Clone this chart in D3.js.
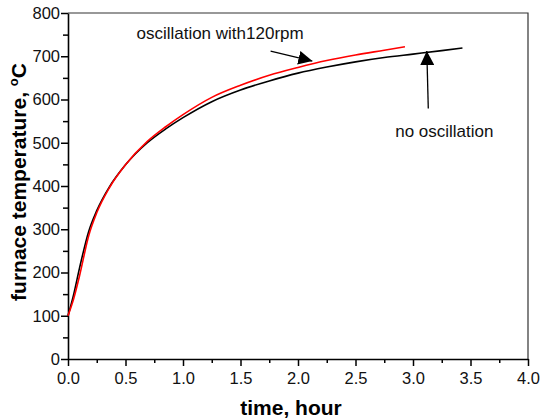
<!DOCTYPE html>
<html>
<head>
	<meta charset="utf-8">
	<title>Furnace temperature</title>
	<script src="https://d3js.org/d3.v7.min.js"></script>
	<style>
		body { margin: 0; background: #fff; }
		text { font-family: "Liberation Sans", Arial, sans-serif; }
	</style>
</head>
<body>
	<script>
		var width = 544, height = 419;
		var margin = {top: 13, right: 16, bottom: 60, left: 68};

		// no oscillation (black)
		var noOscTime = [0, 0.05, 0.1, 0.18, 0.25, 0.36, 0.5, 0.69, 0.85, 1.0, 1.25, 1.5, 1.75, 2.0, 2.25, 2.5, 2.75, 3.0, 3.25, 3.43];
		var noOscTemp = [100, 150, 210, 295, 343, 398, 449, 500, 532, 558, 595, 622, 643, 661, 675, 687, 697, 705, 713, 719];
		// oscillation with 120rpm (red)
		var oscTime = [0, 0.05, 0.1, 0.18, 0.25, 0.36, 0.5, 0.69, 0.85, 1.0, 1.25, 1.5, 1.75, 2.0, 2.25, 2.5, 2.75, 2.93];
		var oscTemp = [100, 140, 192, 285, 338, 396, 449, 503, 537, 565, 605, 633, 656, 674, 690, 703, 714, 722];

		var xTicks = [0, 0.5, 1, 1.5, 2, 2.5, 3, 3.5, 4];
		var xMinor = [0.25, 0.75, 1.25, 1.75, 2.25, 2.75, 3.25, 3.75];
		var yTicks = [0, 100, 200, 300, 400, 500, 600, 700, 800];
		var yMinor = [50, 150, 250, 350, 450, 550, 650, 750];

		// annotations in data units: [text, text x, text y, arrow from x, from y, arrow to x, to y]
		var oscNote = ["oscillation with120rpm", 0.595, 740, 1.762, 712, 2.125, 689];
		var noOscNote = ["no oscillation", 2.845, 513, 3.133, 579, 3.12, 712];

		var svg = d3.select("body").append("svg").attr("width", width).attr("height", height);

		var x = d3.scaleLinear().domain([0, 4]).range([margin.left, width - margin.right]);
		var y = d3.scaleLinear().domain([0, 800]).range([height - margin.bottom, margin.top]);

		// frame top/right
		svg.append("path")
			.attr("d", "M" + x(0) + "," + y(800) + "H" + x(4) + "V" + y(0))
			.attr("fill", "none").attr("stroke", "#333").attr("stroke-width", 1.2);

		// minor ticks
		svg.append("g").attr("transform", "translate(0," + y(0) + ")")
			.call(d3.axisBottom(x).tickValues(xMinor).tickSize(4).tickFormat(""))
			.call(function(g){ g.select(".domain").remove(); g.selectAll("line").attr("stroke-width", 1.5); });
		svg.append("g").attr("transform", "translate(" + x(0) + ",0)")
			.call(d3.axisLeft(y).tickValues(yMinor).tickSize(5).tickFormat(""))
			.call(function(g){ g.select(".domain").remove(); g.selectAll("line").attr("stroke-width", 1.5); });

		var xAxis = svg.append("g").attr("transform", "translate(0," + y(0) + ")")
			.call(d3.axisBottom(x).tickValues(xTicks).tickSize(7).tickSizeOuter(0).tickPadding(6).tickFormat(d3.format(".1f")));
		var yAxis = svg.append("g").attr("transform", "translate(" + x(0) + ",0)")
			.call(d3.axisLeft(y).tickValues(yTicks).tickSize(7).tickSizeOuter(0).tickPadding(1).tickFormat(d3.format("d")));

		[xAxis, yAxis].forEach(function(g){
			g.select(".domain").attr("stroke", "#000").attr("stroke-width", 1.6);
			g.selectAll(".tick line").attr("stroke-width", 1.5);
			g.selectAll(".tick text").attr("font-size", 16.5).attr("fill", "#111")
				.style("font-family", "'Liberation Sans', Arial, sans-serif");
		});

		var line = d3.line()
			.x(function(d){ return x(d[0]); })
			.y(function(d){ return y(d[1]); })
			.curve(d3.curveMonotoneX);

		svg.append("path")
			.datum(noOscTime.map(function(t, i){ return [t, noOscTemp[i]]; }))
			.attr("d", line).attr("fill", "none").attr("stroke", "#000").attr("stroke-width", 1.6);
		svg.append("path")
			.datum(oscTime.map(function(t, i){ return [t, oscTemp[i]]; }))
			.attr("d", line).attr("fill", "none").attr("stroke", "#f00").attr("stroke-width", 1.6);

		// arrows
		svg.append("defs").append("marker")
			.attr("id", "head").attr("viewBox", "0 0 14 14").attr("refX", 14).attr("refY", 7)
			.attr("markerWidth", 14).attr("markerHeight", 14).attr("markerUnits", "userSpaceOnUse")
			.attr("orient", "auto")
			.append("path").attr("d", "M0,0L14,7L0,14Z").attr("fill", "#000");

		[oscNote, noOscNote].forEach(function(n){
			svg.append("text").attr("x", x(n[1])).attr("y", y(n[2]))
				.attr("font-size", 17).attr("fill", "#111").text(n[0]);
			svg.append("line")
				.attr("x1", x(n[3])).attr("y1", y(n[4]))
				.attr("x2", x(n[5])).attr("y2", y(n[6]))
				.attr("stroke", "#000").attr("stroke-width", 1.3)
				.attr("marker-end", "url(#head)");
		});

		// axis titles
		svg.append("text")
			.attr("x", 291).attr("y", 415)
			.attr("text-anchor", "middle").attr("font-size", 21).attr("font-weight", "bold")
			.text("time, hour");

		var yl = svg.append("text")
			.attr("transform", "translate(26,182) rotate(-90)")
			.attr("text-anchor", "middle").attr("font-size", 21).attr("font-weight", "bold");
		yl.append("tspan").text("furnace temperature, ");
		yl.append("tspan").attr("font-size", 13).attr("dy", -8).text("o");
		yl.append("tspan").attr("dy", 8).text("C");
	</script>
</body>
</html>
